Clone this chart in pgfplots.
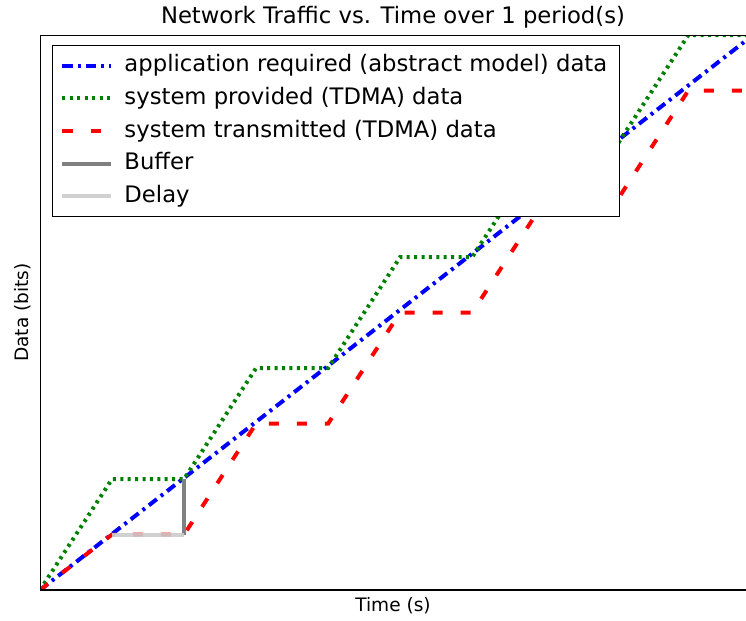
\documentclass[border=0pt]{standalone}
\usepackage{fontspec}
\setmainfont{DejaVu Sans}
\usepackage{pgfplots}
\pgfplotsset{compat=1.18}

\begin{document}
\begin{tikzpicture}
  \begin{axis}[
      scale only axis,
      width=353bp, height=277.5bp,
      xmin=0, xmax=9.8,
      ymin=0, ymax=10,
      xtick=\empty, ytick=\empty,
      axis line style={draw=none},
      title={Network Traffic vs. Time over 1 period(s)},
      title style={font=\fontsize{11.4}{13}\selectfont, yshift=-6.3bp},
      xlabel={Time (s)},
      ylabel={Data (bits)},
      xlabel style={font=\fontsize{9.3}{11}\selectfont, yshift=0bp},
      ylabel style={font=\fontsize{9.3}{11}\selectfont, yshift=1bp},
      legend cell align=left,
      legend style={
        at={(0,1)}, anchor=north west, xshift=6bp, yshift=-5bp,
        font=\fontsize{11.4}{13}\selectfont,
        draw=black, line width=0.5pt,
        nodes={text height=8.7bp, text depth=2.7bp},
        row sep=0.9bp, inner xsep=4bp, inner ysep=2.5bp},
      legend image code/.code={
        \draw[#1] (0bp,0bp) -- (24bp,0bp);
        \path (28bp,0bp);
      },
    ]

    % abstract model
    \addplot[blue, line width=2bp,
      dash pattern=on 5bp off 2.5bp on 1.5bp off 2.5bp]
      coordinates {(0,0) (9.8,9.9)};
    \addlegendentry{application required (abstract model) data}

    % TDMA provided
    \addplot[green!50!black, line width=2bp,
      dash pattern=on 1.5bp off 2.2bp]
      coordinates {(0,0) (1,2) (2,2) (3,4) (4,4) (5,6) (6,6) (7,8) (8,8) (9,10) (9.8,10)};
    \addlegendentry{system provided (TDMA) data}

    % TDMA transmitted
    \addplot[red, line width=2bp,
      dash pattern=on 5bp off 9bp]
      coordinates {(0,0) (1,1) (2,1) (3,3) (4,3) (5,5) (6,5) (7,7) (8,7) (9,9) (9.8,9)};
    \addlegendentry{system transmitted (TDMA) data}

    \addplot[black!50, line width=2bp]
      coordinates {(2,1) (2,2)};
    \addlegendentry{Buffer}

    \addplot[black!20, line width=2bp, opacity=0.9]
      coordinates {(1,1) (2,1)};
    \addlegendentry{Delay}

    % frame: right side falls outside the picture in the reference
    \draw[line width=0.8pt] (rel axis cs:1,1) -- (rel axis cs:0,1)
      -- (rel axis cs:0,0) -- (rel axis cs:1,0);
  \end{axis}
  % blank margin left of the y label
  \path (current axis.south west) ++(-20bp,0bp);
\end{tikzpicture}
\end{document}
